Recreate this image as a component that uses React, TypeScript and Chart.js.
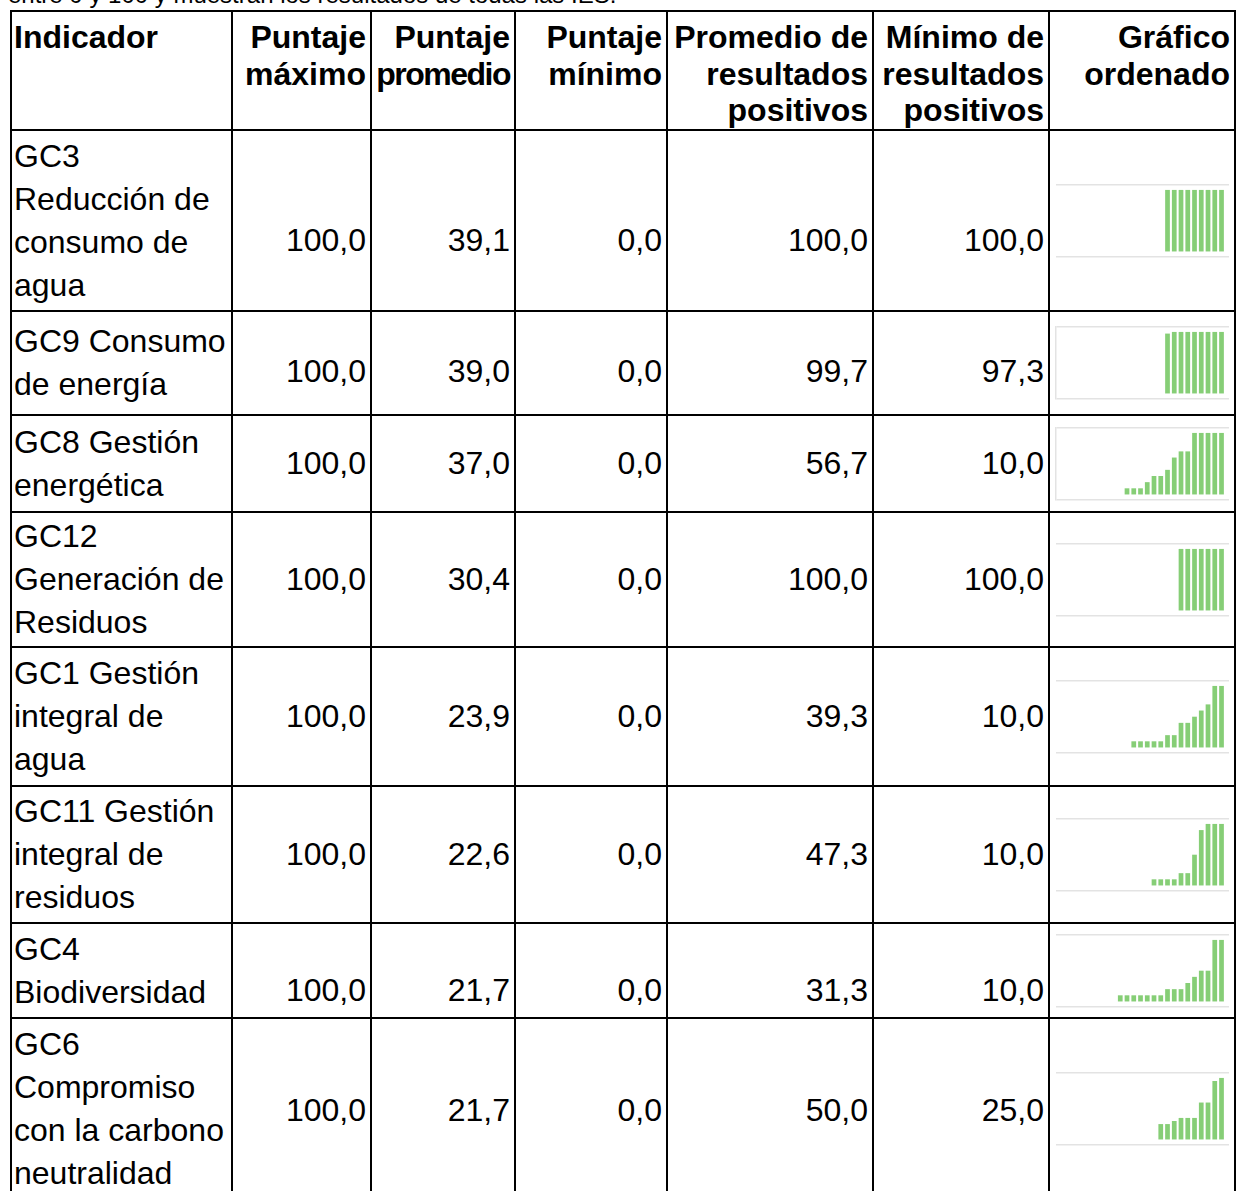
import React, { useEffect, useRef } from 'react';
import { Chart, registerables } from 'chart.js';

Chart.register(...registerables);

// ---------- data ----------
const HEADERS: string[][] = [
  ['Indicador'],
  ['Puntaje', 'máximo'],
  ['Puntaje', 'promedio'],
  ['Puntaje', 'mínimo'],
  ['Promedio de', 'resultados', 'positivos'],
  ['Mínimo de', 'resultados', 'positivos'],
  ['Gráfico', 'ordenado'],
];

const INDICATORS: string[][] = [
  ['GC3', 'Reducción de', 'consumo de', 'agua'],
  ['GC9 Consumo', 'de energía'],
  ['GC8 Gestión', 'energética'],
  ['GC12', 'Generación de', 'Residuos'],
  ['GC1 Gestión', 'integral de', 'agua'],
  ['GC11 Gestión', 'integral de', 'residuos'],
  ['GC4', 'Biodiversidad'],
  ['GC6', 'Compromiso', 'con la carbono', 'neutralidad'],
];

const MAX_SCORE = [100, 100, 100, 100, 100, 100, 100, 100];
const AVG_SCORE = [39.1, 39.0, 37.0, 30.4, 23.9, 22.6, 21.7, 21.7];
const MIN_SCORE = [0, 0, 0, 0, 0, 0, 0, 0];
const AVG_POSITIVE = [100, 99.7, 56.7, 100, 39.3, 47.3, 31.3, 50.0];
const MIN_POSITIVE = [100, 97.3, 10, 100, 10, 10, 10, 25];

// ranking positions of the 23 IES in the sorted sparkline
const IES_RANK = [1, 2, 3, 4, 5, 6, 7, 8, 9, 10, 11, 12, 13, 14, 15, 16, 17, 18, 19, 20, 21, 22, 23];

const GC3_SORTED = [0, 0, 0, 0, 0, 0, 0, 0, 0, 0, 0, 0, 0, 0, 100, 100, 100, 100, 100, 100, 100, 100, 100];
const GC9_SORTED = [0, 0, 0, 0, 0, 0, 0, 0, 0, 0, 0, 0, 0, 0, 97.3, 100, 100, 100, 100, 100, 100, 100, 100];
const GC8_SORTED = [0, 0, 0, 0, 0, 0, 0, 0, 10, 10, 10, 20, 30, 30, 40, 60, 70, 70, 100, 100, 100, 100, 100];
const GC12_SORTED = [0, 0, 0, 0, 0, 0, 0, 0, 0, 0, 0, 0, 0, 0, 0, 0, 100, 100, 100, 100, 100, 100, 100];
const GC1_SORTED = [0, 0, 0, 0, 0, 0, 0, 0, 0, 10, 10, 10, 10, 10, 20, 20, 40, 40, 50, 60, 70, 100, 100];
const GC11_SORTED = [0, 0, 0, 0, 0, 0, 0, 0, 0, 0, 0, 0, 10, 10, 10, 10, 20, 20, 50, 90, 100, 100, 100];
const GC4_SORTED = [0, 0, 0, 0, 0, 0, 0, 10, 10, 10, 10, 10, 10, 10, 20, 20, 20, 30, 40, 50, 50, 100, 100];
const GC6_SORTED = [0, 0, 0, 0, 0, 0, 0, 0, 0, 0, 0, 0, 0, 25, 25, 30, 35, 35, 35, 60, 60, 95, 100];

const SPARK_SERIES = [GC3_SORTED, GC9_SORTED, GC8_SORTED, GC12_SORTED, GC1_SORTED, GC11_SORTED, GC4_SORTED, GC6_SORTED];
const SPARK_BOXED = [false, true, true, false, false, false, false, false];

const INTRO_TEXT = 'entre 0 y 100 y muestran los resultados de todas las IES.';

// ---------- layout / style ----------
const FONT = '"Liberation Sans", Arial, Helvetica, sans-serif';
const COL_WIDTHS = [221, 139, 144, 152, 206, 176, 186];
const HEADER_H = 119;
const ROW_HEIGHTS = [181, 104, 97, 135, 139, 137, 95, 181];
const NUM_SHIFT = [20, 8, 0, 0, 0, 0, 20, 2];
const BAR_COLOR = '#86ce76';
const GRID_COLOR = '#e3e3e3';
const SPARK_W = 184;
const SPARK_H = 88;

const fmt = (v: number) => v.toFixed(1).replace('.', ',');

function Sparkline({ values, boxed }: { values: number[]; boxed: boolean }) {
  const ref = useRef<HTMLCanvasElement | null>(null);
  useEffect(() => {
    if (!ref.current) return;
    const padV = (SPARK_H - 72) / 2;
    const chart = new Chart(ref.current, {
      type: 'bar',
      data: {
        datasets: [
          {
            data: IES_RANK.map((r, i) => ({ x: r, y: values[i] })),
            backgroundColor: BAR_COLOR,
            borderWidth: 0,
            barPercentage: 0.7,
            categoryPercentage: 1,
          },
        ],
      },
      options: {
        animation: false,
        responsive: false,
        maintainAspectRatio: false,
        events: [],
        layout: { padding: { left: 6, right: 5, top: padV, bottom: padV } },
        plugins: { legend: { display: false }, tooltip: { enabled: false } },
        scales: {
          x: {
            type: 'linear',
            display: false,
            offset: false,
            min: -1.52,
            max: 24.11,
            grid: { offset: false },
            afterBuildTicks: (s: any) => {
              s.ticks = IES_RANK.map((v) => ({ value: v }));
            },
          },
          y: {
            type: 'linear',
            display: true,
            min: -9,
            max: 108,
            ticks: { display: false },
            grid: { color: GRID_COLOR, lineWidth: 1.5, drawTicks: false },
            border: { display: boxed, color: GRID_COLOR, width: 1.5 },
            afterBuildTicks: (s: any) => {
              s.ticks = [{ value: s.min }, { value: s.max }];
            },
          },
        },
      },
    } as any);
    return () => chart.destroy();
  }, [values, boxed]);
  return (
    <canvas
      ref={ref}
      width={SPARK_W}
      height={SPARK_H}
      style={{ display: 'block', width: SPARK_W, height: SPARK_H }}
    />
  );
}

export default function App() {
  const cellBase: React.CSSProperties = {
    boxSizing: 'border-box',
    borderRight: '2px solid #000',
    borderBottom: '2px solid #000',
    overflow: 'hidden',
  };
  const headerCell = (ci: number): React.CSSProperties => ({
    ...cellBase,
    fontWeight: 'bold',
    fontSize: 32,
    lineHeight: '36.5px',
    paddingTop: 7,
    paddingLeft: 2,
    paddingRight: 4,
    textAlign: ci === 0 ? 'left' : 'right',
    whiteSpace: 'nowrap',
  });
  const bodyCell = (ci: number): React.CSSProperties => ({
    ...cellBase,
    fontSize: 32,
    lineHeight: '43px',
    paddingLeft: 2,
    paddingRight: ci === 6 ? 0 : 4,
    display: 'flex',
    alignItems: 'center',
    justifyContent: ci === 0 ? 'flex-start' : ci === 6 ? 'flex-start' : 'flex-end',
    whiteSpace: 'nowrap',
  });

  const numericCols = [MAX_SCORE, AVG_SCORE, MIN_SCORE, AVG_POSITIVE, MIN_POSITIVE];

  return (
    <div
      style={{
        position: 'absolute',
        left: 0,
        top: 0,
        width: 1236,
        height: 1191,
        overflow: 'hidden',
        background: '#fff',
        fontFamily: FONT,
        color: '#000',
      }}
    >
      <div
        style={{
          position: 'absolute',
          left: 8,
          top: -19,
          fontSize: 24,
          lineHeight: '28px',
          whiteSpace: 'nowrap',
        }}
      >
        {INTRO_TEXT}
      </div>
      <div
        style={{
          position: 'absolute',
          left: 10,
          top: 10,
          display: 'grid',
          gridTemplateColumns: COL_WIDTHS.map((w) => w + 'px').join(' '),
          gridTemplateRows: [HEADER_H, ...ROW_HEIGHTS].map((h) => h + 'px').join(' '),
          borderLeft: '2px solid #000',
          borderTop: '2px solid #000',
        }}
      >
        {HEADERS.map((lines, ci) => (
          <div key={'h' + ci} style={headerCell(ci)}>
            {lines.map((l, li) => (
              <div key={li} style={l === 'promedio' ? { letterSpacing: '-1.5px' } : undefined}>
                {l}
              </div>
            ))}
          </div>
        ))}
        {INDICATORS.map((lines, ri) => (
          <React.Fragment key={'r' + ri}>
            <div style={bodyCell(0)}>
              <div>
                {lines.map((l, li) => (
                  <div key={li}>{l}</div>
                ))}
              </div>
            </div>
            {numericCols.map((col, ci) => (
              <div key={'c' + ci} style={bodyCell(ci + 1)}>
                <div style={{ position: 'relative', top: NUM_SHIFT[ri] }}>{fmt(col[ri])}</div>
              </div>
            ))}
            <div style={{ ...bodyCell(6), paddingLeft: 0 }}>
              <Sparkline values={SPARK_SERIES[ri]} boxed={SPARK_BOXED[ri]} />
            </div>
          </React.Fragment>
        ))}
      </div>
    </div>
  );
}
